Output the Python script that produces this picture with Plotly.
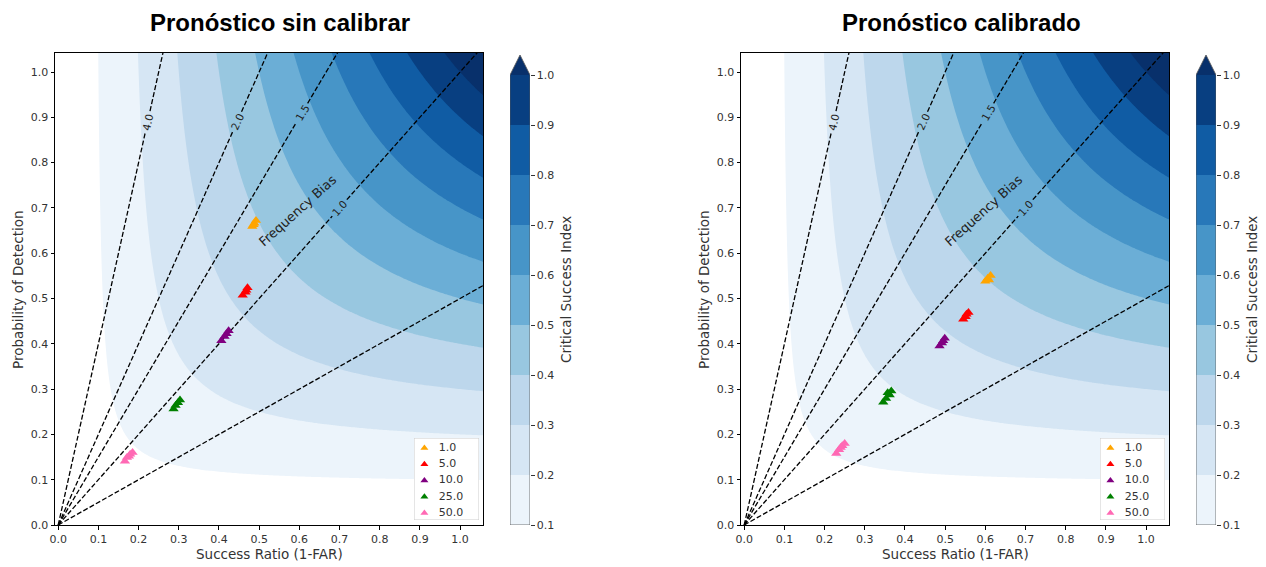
import numpy as np
import plotly.graph_objects as go
from plotly.colors import sample_colorscale

# ---------------- data ----------------
bin_labels = ["1.0", "5.0", "10.0", "25.0", "50.0"]
bin_colors = ["#ffa500", "#ff0000", "#800080", "#008000", "#ff69b4"]

# success ratio / probability of detection per threshold (uncalibrated forecast)
sr_uncal = [
    [0.483, 0.488, 0.492, 0.486],
    [0.459, 0.466, 0.471, 0.468],
    [0.406, 0.414, 0.424, 0.419],
    [0.287, 0.292, 0.303, 0.298],
    [0.166, 0.171, 0.179, 0.185, 0.176],
]
pod_uncal = [
    [0.659, 0.666, 0.672, 0.663],
    [0.507, 0.514, 0.524, 0.518],
    [0.407, 0.416, 0.429, 0.422],
    [0.256, 0.264, 0.276, 0.270],
    [0.141, 0.149, 0.156, 0.160, 0.152],
]

# success ratio / probability of detection per threshold (calibrated forecast)
sr_cal = [
    [0.600, 0.606, 0.613, 0.609],
    [0.545, 0.551, 0.558, 0.553],
    [0.486, 0.492, 0.499, 0.495],
    [0.346, 0.353, 0.362, 0.366, 0.357],
    [0.229, 0.236, 0.244, 0.250, 0.240],
]
pod_cal = [
    [0.538, 0.545, 0.551, 0.541],
    [0.454, 0.460, 0.469, 0.465],
    [0.395, 0.402, 0.412, 0.407],
    [0.271, 0.279, 0.287, 0.296, 0.292],
    [0.158, 0.166, 0.175, 0.180, 0.171],
]

bias_values = [4.0, 2.0, 1.5, 1.0, 0.5]
bias_label_pod = [0.89, 0.89, 0.91, 0.70, None]

csi_levels = [0.1, 0.2, 0.3, 0.4, 0.5, 0.6, 0.7, 0.8, 0.9, 1.0]
csi_ticks = [0.1, 0.2, 0.3, 0.4, 0.5, 0.6, 0.7, 0.8, 0.9, 1.0]
axis_ticks = [0.0, 0.1, 0.2, 0.3, 0.4, 0.5, 0.6, 0.7, 0.8, 0.9, 1.0]

# ---------------- geometry ----------------
W, H = 1266, 567


def fx(p):
    return p / W


def fy(p):
    return 1 - p / H


X_RANGE = [-0.008, 1.057]
Y_RANGE = [0.0, 1.042]
CB_TOP = 1.04

# band colours from the Blues scale: one per CSI band, plus the "over" colour
n_bands = len(csi_levels) - 1
band_colors = sample_colorscale("Blues", [(i + 0.5) / n_bands for i in range(n_bands)])
over_color = sample_colorscale("Blues", [1.0])[0]
fill_colors = band_colors + [over_color]

# CSI field on the SR/POD plane
g = np.linspace(0.005, 1.065, 213)
SR, POD = np.meshgrid(g, g)
CSI = 1.0 / (1.0 / SR + 1.0 / POD - 1.0)

panels = [
    dict(title="Pronóstico sin calibrar", ax=(55, 483), cb=(510, 530), title_x=280,
         sr=sr_uncal, pod=pod_uncal),
    dict(title="Pronóstico calibrado", ax=(741, 1169), cb=(1196, 1216), title_x=961,
         sr=sr_cal, pod=pod_cal),
]

AX_TOP, AX_BOT = 53, 525
CB_TOPPX = 55
LEG_W, LEG_TOP, LEG_BOT = 65, 438, 520

fig = go.Figure()
layout = dict(
    width=W, height=H, margin=dict(l=0, r=0, t=0, b=0, autoexpand=False),
    paper_bgcolor="white", plot_bgcolor="white",
    barmode="overlay", showlegend=False,
    font=dict(family="DejaVu Sans", size=11, color="#222"),
)
annotations = []
TICKFONT = dict(family="DejaVu Sans", size=11, color="#333")
LABELFONT = dict(family="DejaVu Sans", size=13.5, color="#333")


def ann(**kw):
    base = dict(showarrow=False, xanchor="center", yanchor="middle")
    base.update(kw)
    annotations.append(base)


for k, p in enumerate(panels):
    n = 3 * k
    xa, ya = f"x{n + 1 if n else ''}", f"y{n + 1 if n else ''}"
    xcb, ycb = f"x{n + 2}", f"y{n + 2}"
    xlg, ylg = f"x{n + 3}", f"y{n + 3}"

    def lname(a):
        return a[0] + "axis" + a[1:]

    # filled CSI bands: the constraint shades the region where CSI >= level
    for lev, col in zip(csi_levels, fill_colors):
        fig.add_trace(go.Contour(
            x=g, y=g, z=CSI, xaxis=xa, yaxis=ya,
            contours=dict(type="constraint", operation="<", value=lev),
            fillcolor=col, line=dict(width=0, color=col),
            showscale=False, hoverinfo="skip", showlegend=False,
        ))

    # frequency bias lines, broken where the labels sit
    x0, x1 = p["ax"]
    px_per_x = (x1 - x0) / (X_RANGE[1] - X_RANGE[0])
    px_per_y = (AX_BOT - AX_TOP) / (Y_RANGE[1] - Y_RANGE[0])
    for b, ylab in zip(bias_values, bias_label_pod):
        x_end = min(1.07, 1.07 / b)
        if ylab is None:
            xs, ys = [0.0, x_end], [0.0, b * x_end]
        else:
            L = np.hypot(px_per_x / b, px_per_y)  # pixels per unit POD along the line
            dy = 11.0 / L
            xs = [0.0, (ylab - dy) / b, None, (ylab + dy) / b, x_end]
            ys = [0.0, ylab - dy, None, ylab + dy, b * x_end]
            ang = np.degrees(np.arctan2(px_per_y * b, px_per_x))
            ann(x=ylab / b, y=ylab, xref=xa, yref=ya, text=f"{b:.1f}", textangle=-ang,
                font=dict(family="DejaVu Sans", size=10.5, color="#222"))
        fig.add_trace(go.Scatter(
            x=xs, y=ys, xaxis=xa, yaxis=ya, mode="lines",
            line=dict(color="black", width=1.3, dash="5px,2.2px"),
            hoverinfo="skip", showlegend=False, connectgaps=False,
        ))

    ann(x=0.596, y=0.695, xref=xa, yref=ya, text="Frequency Bias", textangle=-42,
        font=dict(family="DejaVu Sans", size=13, color="#222"))

    # forecast points per threshold
    for lab, col, xs, ys in zip(bin_labels, bin_colors, p["sr"], p["pod"]):
        fig.add_trace(go.Scatter(
            x=xs, y=ys, xaxis=xa, yaxis=ya, mode="markers", name=lab,
            marker=dict(symbol="triangle-up", size=9, color=col, line=dict(width=0)),
            hoverinfo="skip", showlegend=False,
        ))

    # colour bar built from the same bands
    fig.add_trace(go.Bar(
        x=[0.5] * n_bands, y=[csi_levels[i + 1] - csi_levels[i] for i in range(n_bands)],
        base=csi_levels[:-1], width=1.0, xaxis=xcb, yaxis=ycb,
        marker=dict(color=band_colors, line=dict(width=0)),
        hoverinfo="skip", showlegend=False,
    ))
    top = csi_levels[-1]
    fig.add_trace(go.Scatter(
        x=[0, 1, 0.5, 0], y=[top, top, CB_TOP, top], xaxis=xcb, yaxis=ycb,
        mode="lines", fill="toself", fillcolor=over_color, line=dict(width=0),
        hoverinfo="skip", showlegend=False,
    ))
    fig.add_trace(go.Scatter(
        x=[0, 1, 1, 0.5, 0, 0], y=[csi_levels[0], csi_levels[0], top, CB_TOP, top, csi_levels[0]],
        xaxis=xcb, yaxis=ycb, mode="lines", line=dict(width=0.8, color="#555"),
        hoverinfo="skip", showlegend=False, cliponaxis=False,
    ))

    # legend box (own small axes inside the lower-right corner)
    idx = list(range(len(bin_labels)))
    fig.add_trace(go.Scatter(
        x=[0, 1, 1, 0, 0], y=[-0.62, -0.62, 4.43, 4.43, -0.62], xaxis=xlg, yaxis=ylg,
        mode="lines", fill="toself", fillcolor="white", line=dict(width=1, color="#cccccc"),
        hoverinfo="skip", showlegend=False, cliponaxis=False,
    ))
    fig.add_trace(go.Scatter(
        x=[0.16] * len(idx), y=idx, xaxis=xlg, yaxis=ylg, mode="markers",
        marker=dict(symbol="triangle-up", size=7, color=bin_colors, line=dict(width=0)),
        hoverinfo="skip", showlegend=False, cliponaxis=False,
    ))
    fig.add_trace(go.Scatter(
        x=[0.38] * len(idx), y=idx, xaxis=xlg, yaxis=ylg, mode="text",
        text=bin_labels, textposition="middle right",
        textfont=dict(family="DejaVu Sans", size=11, color="#333"),
        hoverinfo="skip", showlegend=False, cliponaxis=False,
    ))

    common = dict(ticks="outside", ticklen=3.5, tickwidth=1, tickcolor="black",
                  showline=True, linecolor="black", linewidth=1, mirror=True,
                  showgrid=False, zeroline=False, tickfont=TICKFONT, automargin=False,
                  tickvals=axis_ticks, ticktext=[f"{t:.1f}" for t in axis_ticks])
    layout[lname(xa)] = dict(domain=[fx(x0), fx(x1)], range=X_RANGE, anchor=ya, **common)
    layout[lname(ya)] = dict(domain=[fy(AX_BOT), fy(AX_TOP)], range=Y_RANGE, anchor=xa, **common)

    c0, c1 = p["cb"]
    layout[lname(xcb)] = dict(domain=[fx(c0), fx(c1)], range=[0, 1], anchor=ycb,
                              visible=False, fixedrange=True, automargin=False)
    layout[lname(ycb)] = dict(
        domain=[fy(AX_BOT), fy(CB_TOPPX)], range=[csi_levels[0], CB_TOP], anchor=xcb,
        side="right", tickvals=csi_ticks, ticktext=[f"{t:.1f}" for t in csi_ticks],
        ticks="outside", ticklen=3.5, tickwidth=1, tickcolor="#333", automargin=False,
        showline=False, showgrid=False, zeroline=False, tickfont=TICKFONT,
    )

    layout[lname(xlg)] = dict(domain=[fx(x1 - 4 - LEG_W), fx(x1 - 4)], range=[0, 1],
                              anchor=ylg, visible=False, automargin=False)
    layout[lname(ylg)] = dict(domain=[fy(LEG_BOT), fy(LEG_TOP)], range=[4.43, -0.62],
                              anchor=xlg, visible=False, automargin=False)

    # titles and axis labels
    ann(x=fx(p["title_x"]), y=fy(22), xref="paper", yref="paper", text=f"<b>{p['title']}</b>",
        font=dict(family="Liberation Sans", size=24, color="black"))
    ann(x=fx((x0 + x1) / 2), y=fy(554), xref="paper", yref="paper", text="Success Ratio (1-FAR)",
        font=LABELFONT)
    ann(x=fx(x0 - 37), y=fy(290), xref="paper", yref="paper", text="Probability of Detection",
        textangle=-90, font=LABELFONT)
    ann(x=fx(c1 + 36), y=fy(290), xref="paper", yref="paper", text="Critical Success Index",
        textangle=-90, font=dict(family="DejaVu Sans", size=13.5, color="#333"))

layout["annotations"] = annotations
fig.update_layout(**layout)
fig.write_html("out.html")
